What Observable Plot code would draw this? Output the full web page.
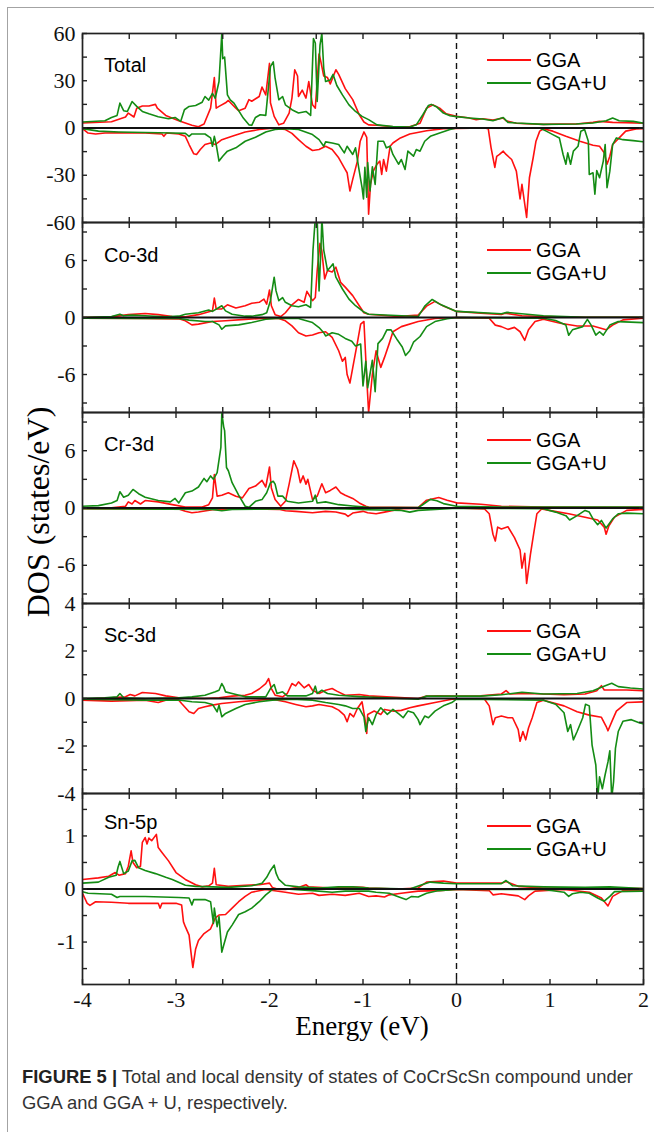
<!DOCTYPE html>
<html><head><meta charset="utf-8">
<script src="https://cdn.jsdelivr.net/npm/d3@7"></script>
<script src="https://cdn.jsdelivr.net/npm/@observablehq/plot@0.6"></script>
<style>
body{margin:0;background:#fff;}
#fig{position:relative;width:654px;height:1132px;overflow:hidden;background:#fff;}
#border{position:absolute;left:7px;top:7px;width:700px;height:1200px;border-left:1.5px solid #a3a3a3;border-top:1.5px solid #a3a3a3;}
.panel{position:absolute;left:0;}
.panel svg{overflow:visible;}
.plabel{position:absolute;font-family:Arial,'Liberation Sans',sans-serif;font-size:20px;color:#000;line-height:1;transform:translateY(-50%);white-space:nowrap;}
.leg{position:absolute;font-family:Arial,'Liberation Sans',sans-serif;font-size:20px;color:#000;line-height:1;transform:translateY(-50%);white-space:nowrap;}
.legline{position:absolute;height:2px;transform:translateY(-50%);}
#ylab{position:absolute;left:38px;top:512px;transform:translate(-50%,-50%) rotate(-90deg);font-family:'Liberation Serif','Times New Roman',serif;font-size:32px;white-space:nowrap;color:#000;line-height:1;}
#xlab{position:absolute;left:362px;top:1026px;transform:translate(-50%,-50%);font-family:'Liberation Serif','Times New Roman',serif;font-size:27px;white-space:nowrap;color:#000;line-height:1;}
.capline{position:absolute;left:22px;font-family:'Liberation Sans',Arial,sans-serif;font-size:18.4px;line-height:1;color:#333;white-space:nowrap;transform:translateY(-50%);}
.capline b{color:#222;}
</style></head>
<body><div id="fig"><div id="border"></div></div>
<script>
// ---------- data (energy in eV, DOS in states/eV) ----------
const energyTicks = [-4,-3.5,-3,-2.5,-2,-1.5,-1,-0.5,0,0.5,1,1.5,2];
const energyLabels = [-4,-3,-2,-1,0,1,2];
const seriesNames = ["GGA","GGA+U"];
const panelNames = ["Total","Co-3d","Cr-3d","Sc-3d","Sn-5p"];

const totalGgaUp = [[-4,3.2],[-3.69,4],[-3.54,7],[-3.51,9.5],[-3.45,7],[-3.42,12.6],[-3.36,14],[-3.29,14],[-3.22,15],[-3.2,12.6],[-3.11,8],[-2.97,4.6],[-2.83,1.7],[-2.76,0.8],[-2.7,2.5],[-2.63,12.6],[-2.59,32],[-2.57,12.6],[-2.54,13.7],[-2.47,16],[-2.44,17.5],[-2.36,12.6],[-2.33,11],[-2.26,12.6],[-2.22,18],[-2.19,17],[-2.11,20],[-2.08,26],[-2.04,21],[-2.0,41],[-1.99,16],[-1.95,7.4],[-1.9,2],[-1.85,3],[-1.79,9.5],[-1.76,19],[-1.73,37],[-1.7,33],[-1.69,20],[-1.65,24],[-1.61,19],[-1.58,29.5],[-1.54,14.7],[-1.51,12.6],[-1.47,47],[-1.45,42],[-1.42,33],[-1.38,32],[-1.35,28],[-1.29,37],[-1.26,34],[-1.19,25],[-1.11,18],[-1.04,8.4],[-0.99,3.8],[-0.94,2],[-0.85,1.7],[-0.68,0.8],[-0.5,0.8],[-0.39,3],[-0.32,12.6],[-0.25,14.7],[-0.18,12.6],[-0.11,9],[0,7.4],[0.14,6.3],[0.21,5.3],[0.28,5.9],[0.39,5],[0.5,6.3],[0.53,4.6],[0.64,3],[0.75,2.7],[0.93,2.3],[1.1,2.5],[1.28,2.5],[1.46,3.6],[1.53,4.2],[1.67,3.6],[1.81,3.4],[2,3]];
const totalGgaDn = [[-4,-0.4],[-3.94,-3.2],[-3.86,-3.8],[-3.76,-3.2],[-3.61,-3],[-3.33,-3.2],[-3.15,-3.8],[-3.13,-5.3],[-3.1,-3.2],[-2.97,-3.8],[-2.9,-5.3],[-2.86,-10.5],[-2.81,-16.4],[-2.78,-16.8],[-2.74,-13.7],[-2.69,-10.5],[-2.63,-9.5],[-2.58,-10.5],[-2.51,-7.4],[-2.4,-5.3],[-2.26,-2.5],[-2.11,-1],[-1.97,-0.2],[-1.83,-1],[-1.76,-3.4],[-1.69,-7.4],[-1.61,-11.6],[-1.54,-14.3],[-1.47,-13.7],[-1.4,-11.6],[-1.33,-13.7],[-1.26,-18.9],[-1.2,-25.3],[-1.17,-28.4],[-1.14,-40],[-1.11,-32.6],[-1.06,-21],[-1.03,-8.4],[-0.99,-2.5],[-0.96,-6],[-0.94,-54.7],[-0.92,-35.8],[-0.89,-27.4],[-0.85,-23],[-0.82,-21],[-0.8,-29.5],[-0.78,-20],[-0.75,-27.4],[-0.71,-11.6],[-0.68,-9.5],[-0.6,-6.3],[-0.5,-3.8],[-0.32,-1.7],[-0.14,-0.4],[0.3,0],[0.34,-0.5],[0.37,-12.6],[0.41,-25],[0.43,-18],[0.46,-16.8],[0.5,-14.7],[0.53,-16.8],[0.59,-20],[0.64,-27.4],[0.68,-45],[0.7,-35.8],[0.75,-56.8],[0.78,-31.6],[0.82,-18.9],[0.85,-8.4],[0.89,-2],[0.93,-0.5],[1.03,-2],[1.17,-5.3],[1.32,-8.4],[1.46,-10.9],[1.53,-11.6],[1.58,-15.8],[1.61,-23],[1.64,-17.9],[1.67,-10.5],[1.74,-6.3],[1.81,-2],[1.92,-0.6],[2,-0.4]];
const totalGgauUp = [[-4,3.8],[-3.76,4.6],[-3.69,6.7],[-3.63,8],[-3.6,15.8],[-3.56,11],[-3.52,10.5],[-3.47,16.8],[-3.42,13.7],[-3.36,10.5],[-3.29,9],[-3.19,7.2],[-3.08,5.9],[-3.01,6.7],[-2.95,4.2],[-2.91,11.6],[-2.86,13.7],[-2.79,14.3],[-2.72,16.4],[-2.69,20],[-2.65,17.7],[-2.61,22],[-2.58,18.9],[-2.54,29.5],[-2.51,60],[-2.5,44],[-2.48,45],[-2.45,21],[-2.42,17.9],[-2.38,15.8],[-2.33,11],[-2.28,6.3],[-2.22,2],[-2.19,1.7],[-2.15,6.7],[-2.1,8.4],[-2.04,8],[-1.99,39],[-1.96,42],[-1.94,31.6],[-1.9,17.9],[-1.86,20],[-1.83,14.7],[-1.76,11.6],[-1.69,9.5],[-1.61,10.5],[-1.56,8],[-1.53,56.8],[-1.51,54],[-1.49,16.8],[-1.46,52.6],[-1.44,60],[-1.42,37.9],[-1.4,29.5],[-1.35,30.5],[-1.32,34],[-1.28,27],[-1.22,21],[-1.15,14.7],[-1.08,10.5],[-1.01,7.4],[-0.94,5.3],[-0.85,2],[-0.68,1],[-0.5,0.6],[-0.43,2],[-0.36,8.4],[-0.3,14.3],[-0.27,15],[-0.21,13.3],[-0.14,9.5],[-0.07,7.8],[0,7.2],[0.14,6.3],[0.28,5.7],[0.39,4.6],[0.5,6.7],[0.55,3.6],[0.64,3.2],[0.93,2.3],[1.28,2.5],[1.46,3.2],[1.6,4.6],[1.67,6.3],[1.74,4.6],[1.89,4.2],[2,3]];
const totalGgauDn = [[-4,-0.4],[-3.83,-2],[-3.61,-2.5],[-3.33,-2.9],[-3.04,-3.2],[-2.9,-3.4],[-2.86,-5.3],[-2.83,-3.8],[-2.69,-3.8],[-2.63,-6.3],[-2.61,-11.6],[-2.59,-5.3],[-2.57,-10.5],[-2.54,-21],[-2.5,-17.9],[-2.45,-14.7],[-2.36,-12.6],[-2.26,-8.4],[-2.15,-5.9],[-2.04,-2.5],[-1.94,-1],[-1.83,-0.4],[-1.69,-1],[-1.54,-4.2],[-1.47,-7.4],[-1.42,-11.6],[-1.4,-8.8],[-1.33,-9.5],[-1.26,-10.5],[-1.2,-15.8],[-1.17,-11.6],[-1.11,-16.8],[-1.08,-12.6],[-1.04,-27.4],[-1.01,-37.9],[-0.995,-45],[-0.98,-25],[-0.96,-44],[-0.95,-22],[-0.925,-40],[-0.9,-24.6],[-0.87,-35.8],[-0.84,-8.4],[-0.78,-8.4],[-0.75,-12.6],[-0.71,-11.6],[-0.68,-16.8],[-0.62,-23],[-0.59,-20],[-0.55,-26.3],[-0.52,-14.7],[-0.46,-17.9],[-0.43,-13.7],[-0.39,-14.7],[-0.34,-8.4],[-0.28,-5.3],[-0.18,-3.2],[-0.07,-1],[0,0],[0.89,0],[0.96,-2],[1.03,-4.2],[1.1,-6.3],[1.14,-16.8],[1.17,-23],[1.19,-15.8],[1.22,-23],[1.25,-14.7],[1.3,-11.6],[1.33,-2],[1.37,-1],[1.41,-8.4],[1.42,-29.5],[1.46,-28.4],[1.48,-42],[1.5,-27],[1.53,-31.6],[1.57,-21],[1.59,-10.5],[1.61,-37.9],[1.64,-27.4],[1.67,-10.5],[1.71,-6.3],[1.78,-7.4],[1.89,-8],[2,-8.8]];

const coGgaUp = [[-4,0],[-3.69,0.07],[-3.51,0.3],[-3.33,0.42],[-3.19,0.3],[-3.04,0.1],[-2.9,0.07],[-2.76,0.3],[-2.61,0.7],[-2.59,2.05],[-2.57,0.9],[-2.51,0.9],[-2.45,1.34],[-2.36,1.0],[-2.26,1.24],[-2.19,1.5],[-2.11,1.6],[-2.06,1.94],[-2.03,1.4],[-2.0,2.9],[-1.98,1.24],[-1.94,0.3],[-1.88,0.1],[-1.83,0.5],[-1.76,1.34],[-1.69,1.9],[-1.63,1.6],[-1.6,2.75],[-1.54,1.77],[-1.51,2.1],[-1.49,4.95],[-1.46,7.8],[-1.44,7.0],[-1.41,4.06],[-1.38,4.95],[-1.33,4.8],[-1.29,5.3],[-1.24,3.7],[-1.19,3.2],[-1.11,2.3],[-1.04,1.24],[-0.99,0.5],[-0.94,0.35],[-0.63,0.1],[-0.41,0.25],[-0.32,1.2],[-0.23,1.7],[-0.14,1.2],[0,0.64],[0.26,0.46],[0.48,0.32],[0.52,0.45],[0.7,0.18],[0.93,0.1],[1.375,0.03],[2,0.03]];
const coGgaDn = [[-4,-0.07],[-3.33,-0.1],[-2.97,-0.14],[-2.9,-0.35],[-2.83,-0.78],[-2.76,-0.7],[-2.61,-0.42],[-2.47,-0.35],[-2.26,-0.2],[-2.04,-0.07],[-1.9,-0.1],[-1.83,-0.35],[-1.76,-0.88],[-1.69,-1.6],[-1.61,-1.94],[-1.54,-1.84],[-1.47,-1.6],[-1.4,-1.5],[-1.33,-2.1],[-1.26,-3.5],[-1.22,-4.6],[-1.19,-4.2],[-1.17,-6],[-1.14,-6.9],[-1.11,-5.3],[-1.06,-2.65],[-1.025,-0.7],[-0.99,-0.42],[-0.96,-6.4],[-0.94,-10],[-0.9,-6],[-0.86,-3.5],[-0.81,-5.25],[-0.77,-4.2],[-0.72,-2.75],[-0.68,-1.5],[-0.59,-0.96],[-0.41,-0.43],[-0.23,-0.1],[0,0],[0.35,-0.07],[0.415,-0.8],[0.48,-0.96],[0.55,-1.25],[0.62,-1.04],[0.68,-1.5],[0.73,-2.4],[0.77,-1.3],[0.84,-0.43],[0.93,-0.18],[1.11,-0.6],[1.29,-0.9],[1.46,-0.9],[1.6,-1.3],[1.67,-0.8],[1.78,-0.25],[2,-0.07]];
const coGgauUp = [[-4,0],[-3.69,0.1],[-3.6,0.35],[-3.56,0.18],[-3.47,0.25],[-3.33,0.18],[-3.11,0.07],[-2.97,0.14],[-2.9,0.35],[-2.76,0.5],[-2.65,0.78],[-2.61,0.64],[-2.51,1.24],[-2.47,0.7],[-2.4,0.35],[-2.26,0.14],[-2.19,0.14],[-2.08,0.3],[-2.03,0.5],[-1.99,1.77],[-1.95,4.24],[-1.93,2.8],[-1.9,1.77],[-1.86,2.1],[-1.83,1.6],[-1.76,1.24],[-1.69,1.13],[-1.61,1.34],[-1.56,1.06],[-1.535,7.07],[-1.51,10.5],[-1.49,10.5],[-1.47,2.8],[-1.45,7.1],[-1.44,10.5],[-1.42,7.1],[-1.38,4.95],[-1.35,5.3],[-1.32,5.65],[-1.29,4.24],[-1.22,3.0],[-1.15,1.94],[-1.08,1.24],[-1.0,0.64],[-0.94,0.35],[-0.41,0.1],[-0.34,1.2],[-0.26,1.9],[-0.17,1.36],[0,0.64],[0.48,0.4],[0.54,0.54],[0.93,0.18],[1.375,0.03],[2,0.03]];
const coGgauDn = [[-4,-0.07],[-3.33,-0.1],[-2.97,-0.1],[-2.86,-0.28],[-2.69,-0.42],[-2.61,-0.42],[-2.54,-0.78],[-2.51,-1.24],[-2.47,-0.88],[-2.33,-0.78],[-2.19,-0.53],[-2.04,-0.18],[-1.9,-0.07],[-1.69,-0.1],[-1.54,-0.53],[-1.47,-1.06],[-1.42,-1.6],[-1.4,-1.94],[-1.33,-1.6],[-1.26,-1.77],[-1.19,-2.2],[-1.12,-2.5],[-1.08,-3],[-1.025,-2.8],[-1.0,-7.2],[-0.97,-4.6],[-0.95,-7.4],[-0.9,-4.5],[-0.87,-7.8],[-0.84,-2.75],[-0.79,-2.2],[-0.745,-1.3],[-0.7,-1.3],[-0.63,-2.4],[-0.58,-3.1],[-0.545,-4],[-0.5,-3.5],[-0.46,-2.6],[-0.39,-2],[-0.32,-0.96],[-0.23,-0.43],[-0.1,-0.14],[0,0],[0.93,-0.07],[1.06,-0.32],[1.17,-0.8],[1.2,-1.86],[1.24,-1.3],[1.35,-0.96],[1.4,-0.2],[1.44,-0.8],[1.49,-1.86],[1.53,-1.5],[1.57,-1.86],[1.64,-0.8],[1.73,-0.43],[2,-0.54]];

const crGgaUp = [[-4,0],[-3.69,0.03],[-3.54,0.18],[-3.51,0.64],[-3.47,0.42],[-3.44,0.78],[-3.38,0.42],[-3.33,0.78],[-3.19,0.64],[-3.04,0.35],[-2.9,0.1],[-2.72,0.1],[-2.65,0.35],[-2.61,1.06],[-2.59,3.5],[-2.56,1.24],[-2.51,1.34],[-2.44,1.6],[-2.36,1.24],[-2.29,1.06],[-2.22,2.05],[-2.15,2.3],[-2.08,2.9],[-2.04,2.2],[-2.0,4.3],[-1.98,2.1],[-1.94,0.88],[-1.88,0.18],[-1.83,0.7],[-1.79,2.5],[-1.74,4.95],[-1.7,4.06],[-1.67,2.65],[-1.64,3.36],[-1.61,2.5],[-1.59,3.0],[-1.54,0.88],[-1.49,1.24],[-1.44,2.54],[-1.4,1.6],[-1.35,1.84],[-1.29,2.2],[-1.24,1.6],[-1.19,1.34],[-1.11,1.0],[-1.04,0.53],[-0.97,0.18],[-0.94,0.1],[-0.41,0.04],[-0.32,0.82],[-0.19,1.1],[-0.1,0.82],[0,0.54],[0.26,0.39],[0.48,0.18],[0.93,0.1],[2,0.07]];
const crGgaDn = [[-4,-0.07],[-2.97,-0.1],[-2.9,-0.35],[-2.83,-0.5],[-2.76,-0.42],[-2.61,-0.18],[-2.26,-0.07],[-1.9,-0.14],[-1.83,-0.28],[-1.72,-0.35],[-1.54,-0.5],[-1.4,-0.35],[-1.29,-0.42],[-1.19,-0.64],[-1.16,-0.88],[-1.11,-0.53],[-1.0,-0.35],[-0.95,-0.5],[-0.86,-0.6],[-0.77,-0.43],[-0.59,-0.07],[0,0],[0.3,-0.1],[0.35,-0.6],[0.39,-2.75],[0.415,-3.46],[0.44,-2],[0.48,-2.2],[0.55,-1.96],[0.62,-3.1],[0.68,-4.4],[0.7,-6.3],[0.73,-4.75],[0.75,-7.9],[0.79,-4.9],[0.83,-2.4],[0.86,-0.6],[0.91,-0.1],[1.02,-0.3],[1.2,-0.6],[1.375,-0.96],[1.51,-1.25],[1.58,-2],[1.6,-2.75],[1.63,-1.86],[1.69,-0.96],[1.82,-0.25],[2,-0.14]];
const crGgauUp = [[-4,0.18],[-3.83,0.25],[-3.69,0.53],[-3.63,0.78],[-3.6,1.7],[-3.56,1.13],[-3.51,1.34],[-3.46,1.94],[-3.4,1.5],[-3.33,1.13],[-3.19,0.78],[-3.06,0.64],[-3.01,1.0],[-2.97,0.53],[-2.9,1.6],[-2.83,1.77],[-2.76,2.2],[-2.7,3.1],[-2.67,2.75],[-2.63,3.36],[-2.6,3.0],[-2.56,3.7],[-2.52,6.36],[-2.51,9.96],[-2.49,8.5],[-2.48,8.1],[-2.46,4.24],[-2.44,3.9],[-2.4,2.65],[-2.33,1.34],[-2.26,0.18],[-2.22,0.07],[-2.15,0.7],[-2.08,0.88],[-2.03,1.6],[-1.99,2.65],[-1.96,2.8],[-1.94,2.5],[-1.91,1.24],[-1.86,1.24],[-1.81,0.7],[-1.69,0.53],[-1.54,0.7],[-1.51,1.34],[-1.49,0.53],[-1.4,0.64],[-1.26,0.35],[-1.11,0.21],[-0.94,0.07],[-0.41,0.04],[-0.37,0.29],[-0.28,0.9],[-0.21,0.75],[-0.14,0.46],[0,0.18],[0.48,0.1],[2,0.1]];
const crGgauDn = [[-4,-0.07],[-2.61,-0.14],[-2.51,-0.28],[-2.4,-0.14],[-1.54,-0.07],[-1.19,-0.1],[-0.94,-0.18],[-0.59,-0.25],[-0.5,-0.43],[-0.41,-0.25],[0,-0.03],[0.93,-0.07],[1.06,-0.43],[1.17,-0.8],[1.21,-1.25],[1.29,-0.8],[1.375,-0.25],[1.42,-0.43],[1.46,-1.14],[1.51,-1.75],[1.55,-1.3],[1.6,-2.1],[1.67,-1.14],[1.73,-0.6],[1.82,-0.54],[2,-0.6]];

const scGgaUp = [[-4,-0.03],[-3.69,0.03],[-3.54,0.07],[-3.49,0.17],[-3.44,0.11],[-3.36,0.25],[-3.22,0.21],[-3.11,0.11],[-2.97,0.03],[-2.7,0],[-2.54,0.03],[-2.4,0.1],[-2.26,0.14],[-2.19,0.21],[-2.11,0.4],[-2.04,0.63],[-2.01,0.84],[-1.98,0.42],[-1.94,0.14],[-1.86,0.07],[-1.81,0.21],[-1.76,0.63],[-1.72,0.53],[-1.69,0.7],[-1.63,0.45],[-1.58,0.59],[-1.54,0.35],[-1.47,0.21],[-1.4,0.35],[-1.33,0.42],[-1.28,0.31],[-1.19,0.14],[-1.04,0.17],[-0.94,0.11],[-0.41,0],[-0.32,0.1],[-0.19,0.11],[0,0.1],[0.26,0.11],[0.48,0.19],[0.53,0.33],[0.57,0.19],[0.75,0.21],[0.93,0.19],[1.15,0.16],[1.375,0.19],[1.5,0.33],[1.55,0.54],[1.58,0.36],[1.69,0.36],[1.82,0.36],[2,0.33]];
const scGgaDn = [[-4,-0.07],[-3.69,-0.11],[-3.33,-0.07],[-3.19,-0.17],[-3.11,-0.07],[-2.97,-0.07],[-2.94,-0.21],[-2.86,-0.56],[-2.81,-0.63],[-2.76,-0.42],[-2.69,-0.35],[-2.61,-0.28],[-2.51,-0.21],[-2.33,-0.14],[-2.11,-0.07],[-1.97,-0.03],[-1.83,-0.14],[-1.72,-0.25],[-1.61,-0.35],[-1.54,-0.31],[-1.47,-0.25],[-1.33,-0.35],[-1.26,-0.49],[-1.2,-0.7],[-1.17,-0.98],[-1.14,-0.63],[-1.1,-0.77],[-1.06,-0.42],[-1.01,-0.14],[-0.98,-0.84],[-0.96,-1.47],[-0.95,-0.67],[-0.88,-0.53],[-0.81,-0.67],[-0.77,-0.46],[-0.68,-0.53],[-0.59,-0.5],[-0.5,-0.39],[-0.41,-0.31],[-0.23,-0.17],[-0.05,-0.03],[0.3,-0.03],[0.35,-0.31],[0.39,-1.1],[0.415,-0.81],[0.48,-0.74],[0.55,-0.81],[0.6,-0.81],[0.66,-1.31],[0.68,-1.8],[0.71,-1.39],[0.74,-1.74],[0.77,-1.24],[0.81,-0.81],[0.86,-0.17],[0.93,-0.07],[1.15,-0.31],[1.29,-0.56],[1.42,-0.7],[1.55,-0.79],[1.6,-1.17],[1.62,-1.36],[1.67,-0.89],[1.71,-0.53],[1.82,-0.17],[2,-0.14]];
const scGgauUp = [[-4,0],[-3.76,0.03],[-3.63,0.07],[-3.6,0.21],[-3.56,0.03],[-3.33,0],[-2.97,0.03],[-2.83,0.07],[-2.69,0.14],[-2.58,0.28],[-2.54,0.35],[-2.51,0.63],[-2.49,0.49],[-2.47,0.28],[-2.4,0.21],[-2.26,0.07],[-2.04,0.07],[-1.99,0.42],[-1.95,0.59],[-1.92,0.21],[-1.86,0.28],[-1.81,0.11],[-1.61,0.11],[-1.54,0.21],[-1.51,0.52],[-1.49,0.21],[-1.44,0.35],[-1.38,0.21],[-1.26,0.14],[-1.04,0.08],[-0.94,0.06],[-0.41,-0.03],[-0.32,0.1],[0,0.1],[0.26,0.1],[0.48,0.16],[0.7,0.26],[0.93,0.19],[1.29,0.21],[1.46,0.33],[1.55,0.47],[1.66,0.64],[1.73,0.5],[1.86,0.44],[2,0.4]];
const scGgauDn = [[-4,-0.03],[-3.33,-0.07],[-2.97,-0.06],[-2.83,-0.14],[-2.69,-0.17],[-2.61,-0.25],[-2.56,-0.56],[-2.54,-0.28],[-2.51,-0.77],[-2.47,-0.63],[-2.36,-0.42],[-2.26,-0.25],[-2.11,-0.14],[-1.97,-0.07],[-1.76,-0.03],[-1.54,-0.07],[-1.4,-0.17],[-1.26,-0.25],[-1.19,-0.31],[-1.11,-0.42],[-1.04,-0.42],[-0.99,-0.77],[-0.97,-1.39],[-0.94,-0.81],[-0.9,-1.1],[-0.86,-0.67],[-0.81,-0.39],[-0.74,-0.67],[-0.68,-0.46],[-0.61,-0.67],[-0.57,-0.81],[-0.52,-0.53],[-0.46,-0.6],[-0.41,-0.89],[-0.39,-1.1],[-0.34,-0.74],[-0.3,-0.81],[-0.23,-0.53],[-0.14,-0.31],[-0.05,-0.17],[0,-0.03],[0.93,-0.07],[1.06,-0.24],[1.15,-0.6],[1.19,-1.39],[1.22,-1.1],[1.25,-1.74],[1.29,-1.39],[1.35,-0.81],[1.38,-0.24],[1.42,-0.31],[1.45,-1.96],[1.49,-2.8],[1.51,-4.2],[1.53,-3.3],[1.56,-3.8],[1.59,-3.2],[1.62,-2.67],[1.64,-2.2],[1.66,-4.2],[1.68,-3.5],[1.7,-2.1],[1.73,-1.39],[1.78,-0.96],[1.87,-0.89],[1.96,-1.03],[2,-1.07]];

const snGgaUp = [[-4,0.18],[-3.83,0.21],[-3.72,0.24],[-3.65,0.31],[-3.61,0.26],[-3.54,0.29],[-3.51,0.43],[-3.48,0.72],[-3.46,0.5],[-3.42,0.4],[-3.38,0.43],[-3.36,0.88],[-3.33,0.97],[-3.31,0.85],[-3.29,0.96],[-3.26,0.91],[-3.21,1.03],[-3.19,0.78],[-3.15,0.69],[-3.08,0.53],[-3.0,0.31],[-2.9,0.18],[-2.79,0.08],[-2.72,0.04],[-2.65,0.06],[-2.61,0.11],[-2.59,0.39],[-2.57,0.08],[-2.44,0.05],[-2.26,0.07],[-2.11,0.08],[-2.0,0.11],[-1.97,0.03],[-1.9,-0.01],[-1.83,-0.01],[-1.69,0.03],[-1.61,0.08],[-1.58,0.04],[-1.33,0.02],[-1.19,0.04],[-1.0,0.03],[-0.94,0.02],[-0.63,0],[-0.41,0.02],[-0.32,0.13],[-0.14,0.15],[0,0.11],[0.26,0.11],[0.48,0.11],[0.53,0.14],[0.66,0.05],[0.93,0.02],[1.4,0.02],[2,0.01]];
const snGgaDn = [[-4,-0.08],[-3.95,-0.27],[-3.92,-0.31],[-3.86,-0.24],[-3.69,-0.25],[-3.51,-0.27],[-3.33,-0.27],[-3.19,-0.27],[-3.17,-0.36],[-3.15,-0.27],[-3.0,-0.27],[-2.94,-0.3],[-2.92,-0.62],[-2.9,-0.71],[-2.86,-0.87],[-2.84,-1.19],[-2.82,-1.48],[-2.79,-1.13],[-2.76,-0.97],[-2.7,-0.84],[-2.63,-0.75],[-2.58,-0.55],[-2.54,-0.49],[-2.47,-0.48],[-2.4,-0.36],[-2.33,-0.24],[-2.26,-0.14],[-2.19,-0.06],[-2.04,-0.01],[-1.83,-0.06],[-1.69,-0.1],[-1.54,-0.08],[-1.47,-0.12],[-1.33,-0.1],[-1.19,-0.12],[-1.04,-0.08],[-0.94,-0.14],[-0.86,-0.13],[-0.77,-0.15],[-0.72,-0.11],[-0.59,-0.08],[-0.41,-0.04],[-0.19,-0.03],[0,-0.01],[0.35,-0.03],[0.39,-0.11],[0.48,-0.09],[0.66,-0.13],[0.73,-0.2],[0.77,-0.13],[0.84,-0.04],[1.15,-0.01],[1.42,-0.06],[1.55,-0.17],[1.62,-0.32],[1.67,-0.14],[1.78,-0.03],[2,-0.03]];
const snGgauUp = [[-4,0.11],[-3.83,0.13],[-3.72,0.22],[-3.64,0.26],[-3.62,0.41],[-3.6,0.52],[-3.56,0.29],[-3.51,0.34],[-3.47,0.53],[-3.44,0.54],[-3.4,0.4],[-3.33,0.35],[-3.22,0.29],[-3.11,0.22],[-3.04,0.18],[-2.9,0.07],[-2.79,0.05],[-2.61,0.04],[-2.44,0.03],[-2.19,0.06],[-2.08,0.11],[-2.03,0.22],[-1.99,0.35],[-1.95,0.45],[-1.93,0.3],[-1.9,0.18],[-1.83,0.07],[-1.69,0.04],[-1.47,0.02],[-1.26,0.04],[-1.11,0.04],[-0.94,0.02],[-0.5,0],[-0.37,0.08],[-0.28,0.13],[-0.14,0.11],[0,0.1],[0.48,0.1],[0.53,0.16],[0.6,0.06],[0.93,0.04],[1.375,0.03],[1.64,0.04],[2,0.01]];
const snGgauDn = [[-4,-0.05],[-3.94,-0.08],[-3.69,-0.1],[-3.63,-0.16],[-3.6,-0.14],[-3.33,-0.14],[-2.97,-0.16],[-2.86,-0.17],[-2.83,-0.3],[-2.81,-0.2],[-2.69,-0.2],[-2.63,-0.24],[-2.6,-0.65],[-2.59,-0.36],[-2.56,-0.71],[-2.54,-0.52],[-2.51,-1.19],[-2.49,-1.06],[-2.45,-0.81],[-2.4,-0.68],[-2.33,-0.48],[-2.26,-0.43],[-2.19,-0.36],[-2.11,-0.24],[-2.04,-0.11],[-1.97,-0.01],[-1.83,0],[-1.54,-0.03],[-1.33,-0.06],[-1.19,-0.04],[-0.94,-0.04],[-0.86,-0.06],[-0.72,-0.08],[-0.63,-0.14],[-0.54,-0.2],[-0.48,-0.14],[-0.41,-0.15],[-0.32,-0.08],[-0.19,-0.03],[0,-0.01],[0.93,-0.01],[1.15,-0.06],[1.2,-0.14],[1.24,-0.09],[1.33,-0.06],[1.42,-0.08],[1.51,-0.17],[1.58,-0.23],[1.64,-0.14],[1.69,-0.05],[2,-0.04]];

const totalYTicks = [-60,-45,-30,-15,0,15,30,45,60], totalYLabels = [-60,-30,0,30,60];
const dYTicks = [-9,-6,-3,0,3,6,9], dYLabels = [-6,0,6];
const scYTicks = [-4,-3,-2,-1,0,1,2,3,4], scYLabels = [-4,-2,0,2,4];
const snYTicks = [-1.5,-1,-0.5,0,0.5,1,1.5], snYLabels = [-1,0,1];

// ---------- layout ----------
const RED = "#ff1010", GREEN = "#148c14";
const panels = [
  {name: panelNames[0], top: 33, h: 189, domain: [-60, 60], ticks: totalYTicks, labels: totalYLabels, lab: 32, leg: 27, series: [[totalGgaUp, totalGgaDn], [totalGgauUp, totalGgauDn]]},
  {name: panelNames[1], top: 222, h: 190, domain: [-10, 10], ticks: dYTicks, labels: dYLabels, lab: 33, leg: 28, series: [[coGgaUp, coGgaDn], [coGgauUp, coGgauDn]]},
  {name: panelNames[2], top: 412, h: 191, domain: [-10, 10], ticks: dYTicks, labels: dYLabels, lab: 32, leg: 28, series: [[crGgaUp, crGgaDn], [crGgauUp, crGgauDn]]},
  {name: panelNames[3], top: 603, h: 190, domain: [-4, 4], ticks: scYTicks, labels: scYLabels, lab: 32, leg: 28, series: [[scGgaUp, scGgaDn], [scGgauUp, scGgauDn]]},
  {name: panelNames[4], top: 793, h: 191, domain: [-1.8, 1.8], ticks: snYTicks, labels: snYLabels, lab: 29, leg: 33, series: [[snGgaUp, snGgaDn], [snGgauUp, snGgauDn]]}
];
const colors = [RED, GREEN];
const fig = document.getElementById("fig");
const serif = "'Liberation Serif','Times New Roman',serif";
const fmt = d => String(d);
const blank = () => "";

panels.forEach((p, i) => {
  const last = i === panels.length - 1;
  const mb = last ? 40 : 0;
  const marks = [
    Plot.ruleX([0], {stroke: "#111", strokeWidth: 1.4, strokeDasharray: "6,4"})
  ];
  p.series.forEach((pair, k) => {
    pair.forEach(arr => {
      marks.push(Plot.line(arr, {x: d => d[0], y: d => d[1], stroke: colors[k], strokeWidth: 1.6, clip: true}));
    });
  });
  marks.push(
    Plot.ruleY([0], {stroke: "#111", strokeWidth: 2}),
    Plot.frame({stroke: "#222", strokeWidth: 1.7}),
    Plot.axisX({anchor: "bottom", ticks: energyTicks, tickSize: -5, tickFormat: blank, label: null, stroke: "#222", strokeWidth: 1.4}),
    Plot.axisX({anchor: "top", ticks: energyTicks, tickSize: -5, tickFormat: blank, label: null, stroke: "#222", strokeWidth: 1.4}),
    Plot.axisY({anchor: "left", ticks: p.ticks, tickSize: -5, tickFormat: blank, label: null, stroke: "#222", strokeWidth: 1.4}),
    Plot.axisY({anchor: "right", ticks: p.ticks, tickSize: -5, tickFormat: blank, label: null, stroke: "#222", strokeWidth: 1.4}),
    Plot.axisY({anchor: "left", ticks: p.labels, tickSize: 0, tickPadding: 7, tickFormat: fmt, label: null, fill: "#111"})
  );
  if (last) {
    marks.push(Plot.axisX({anchor: "bottom", ticks: energyLabels, tickSize: 0, tickPadding: 7, tickFormat: fmt, label: null, fill: "#111"}));
  }
  const svg = Plot.plot({
    width: 654, height: p.h + mb,
    marginLeft: 82, marginRight: 11, marginTop: 0, marginBottom: mb,
    x: {domain: [-4, 2]},
    y: {domain: p.domain},
    style: {fontFamily: serif, fontSize: "22px", overflow: "visible", background: "transparent"},
    marks
  });
  const wrap = document.createElement("div");
  wrap.className = "panel";
  wrap.style.top = p.top + "px";
  wrap.appendChild(svg);
  fig.appendChild(wrap);

  const lab = document.createElement("div");
  lab.className = "plabel";
  lab.style.left = "104px";
  lab.style.top = (p.top + p.lab) + "px";
  lab.textContent = p.name;
  fig.appendChild(lab);
  seriesNames.forEach((s, k) => {
    const y = p.top + p.leg + k * 23;
    const ln = document.createElement("div");
    ln.className = "legline";
    ln.style.left = "487px"; ln.style.width = "44px"; ln.style.top = y + "px";
    ln.style.background = colors[k];
    fig.appendChild(ln);
    const t = document.createElement("div");
    t.className = "leg";
    t.style.left = "536px"; t.style.top = y + "px";
    t.textContent = s;
    fig.appendChild(t);
  });
});

const ylab = document.createElement("div"); ylab.id = "ylab"; ylab.textContent = "DOS (states/eV)"; fig.appendChild(ylab);
const xlab = document.createElement("div"); xlab.id = "xlab"; xlab.textContent = "Energy (eV)"; fig.appendChild(xlab);
const cap1 = document.createElement("div"); cap1.className = "capline"; cap1.style.top = "1077px";
cap1.innerHTML = "<b>FIGURE 5 |</b> Total and local density of states of CoCrScSn compound under";
fig.appendChild(cap1);
const cap2 = document.createElement("div"); cap2.className = "capline"; cap2.style.top = "1103px";
cap2.textContent = "GGA and GGA + U, respectively.";
fig.appendChild(cap2);
</script>
</body></html>
